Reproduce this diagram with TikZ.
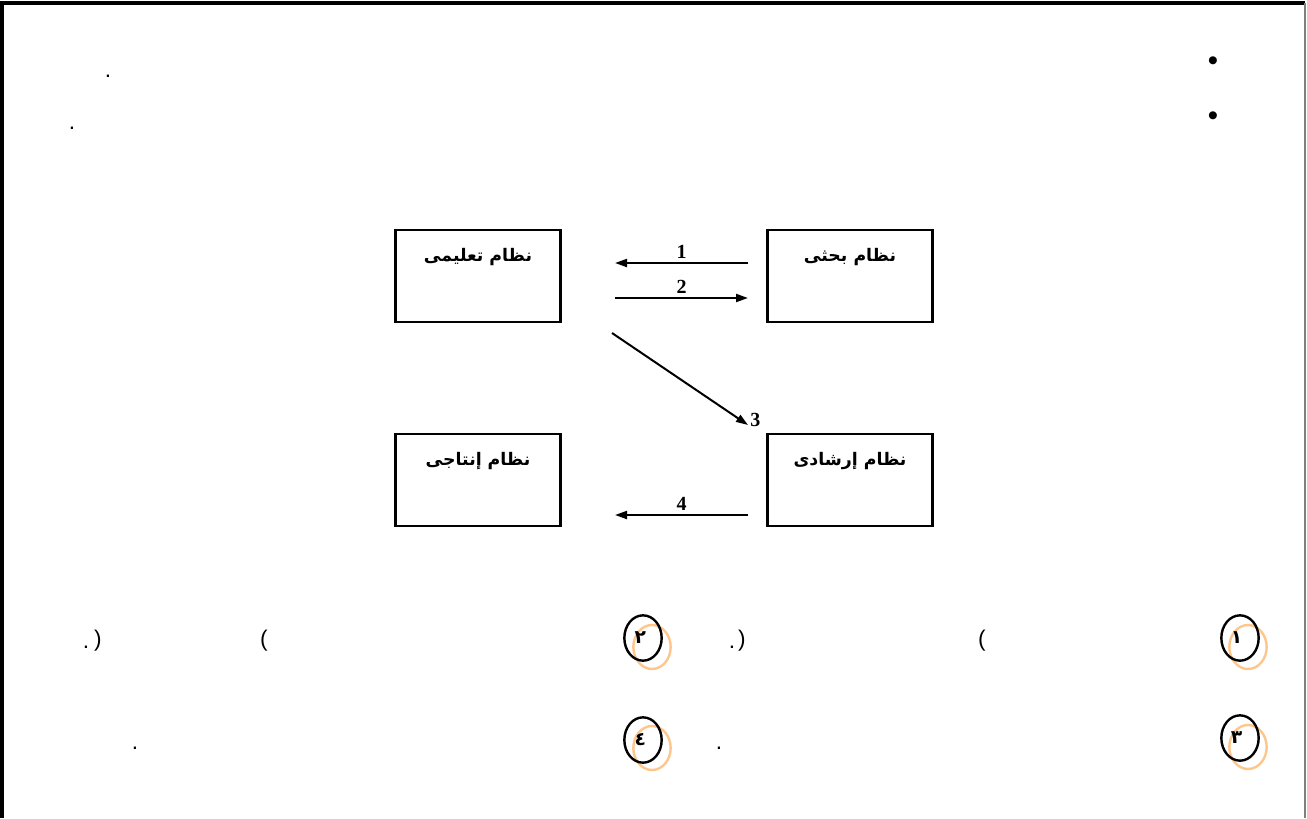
\documentclass[tikz,border=0pt]{standalone}
\usepackage{fontspec}
\setmainfont{Liberation Serif}
\newfontfamily\arabicfont[Script=Arabic]{DejaVu Sans}
\newfontfamily\plainsans{Liberation Sans}
\TeXXeTstate=1
\usetikzlibrary{arrows.meta,shapes.geometric}

\begin{document}
\begin{tikzpicture}[x=0.75pt,y=-0.75pt,
    sysbox/.style={draw,line width=2pt,minimum width=124pt,minimum height=69pt,inner sep=0pt},
    boxtext/.style={font=\arabicfont\bfseries\fontsize{13}{15}\selectfont},
    flow/.style={line width=1.5pt,-{Triangle[length=9pt,width=6pt]}},
    numlabel/.style={font=\bfseries\fontsize{15}{17}\selectfont,inner sep=1pt},
    blackring/.style={ellipse,draw,line width=1.8pt,minimum width=28pt,minimum height=34pt,inner sep=0pt,
      font=\arabicfont\bfseries\fontsize{14}{16}\selectfont},
    orangering/.style={ellipse,draw=orange!45,line width=1.8pt,minimum width=28pt,minimum height=33pt,inner sep=0pt},
    punct/.style={font=\plainsans\fontsize{17}{19}\selectfont,inner sep=0pt}]
  \useasboundingbox (0,0) rectangle (1307,818);
  % frame
  \draw[line width=2.5pt] (2,818) -- (2,3) -- (1305,3);
  \draw[gray,line width=1.5pt] (1305,3) -- (1305,818);
  % bullets and dots at the top
  \node[punct,font=\plainsans\fontsize{22}{24}\selectfont] (bul1) at (1213,64) {•};
  \node[punct,font=\plainsans\fontsize{22}{24}\selectfont] (bul2) at (1213,119) {•};
  \node[punct] (dot1) at (108,76) {.};
  \node[punct] (dot2) at (72,128) {.};
  % the four systems
  \node[sysbox] (taalimi) at (478,276) {};
  \node[sysbox] (bahthi) at (850,276) {};
  \node[sysbox] (entaji) at (478,480) {};
  \node[sysbox] (ershadi) at (850,480) {};
  \node[boxtext] (taalimi-t) at ([yshift=-21pt]taalimi.north) {\beginR نظام تعليمى\endR};
  \node[boxtext] (bahthi-t) at ([yshift=-21pt]bahthi.north) {\beginR نظام بحثى\endR};
  \node[boxtext] (entaji-t) at ([yshift=-21pt]entaji.north) {\beginR نظام إنتاجى\endR};
  \node[boxtext] (ershadi-t) at ([yshift=-21pt]ershadi.north) {\beginR نظام إرشادى\endR};
  % arrows
  \coordinate (a1s) at (748,263);
  \coordinate (a1e) at (615,263);
  \coordinate (a2s) at (615,298);
  \coordinate (a2e) at (748,298);
  \coordinate (a3s) at (612,333);
  \coordinate (a3e) at (748,425);
  \coordinate (a4s) at (748,515);
  \coordinate (a4e) at (615,515);
  \draw[flow] (a1s) -- (a1e) node[midway,above,numlabel,yshift=2pt] {1};
  \draw[flow] (a2s) -- (a2e) node[midway,above,numlabel,yshift=2pt] {2};
  \draw[flow] (a3s) -- (a3e) node[pos=1,anchor=south west,numlabel,xshift=0pt,yshift=-3pt] {3};
  \draw[flow] (a4s) -- (a4e) node[midway,above,numlabel,yshift=2pt] {4};
  % numbered rings
  \node[orangering] (o1) at (1248,647) {};
  \node[orangering] (o2) at (652,647) {};
  \node[orangering] (o3) at (1248,747) {};
  \node[orangering] (o4) at (652,748) {};
  \node[blackring] (n1) at (1240,638) {\hspace*{-5pt}١};
  \node[blackring] (n2) at (643,638) {\hspace*{-4pt}٢};
  \node[blackring] (n3) at (1240,738) {\hspace*{-5pt}٣};
  \node[blackring] (n4) at (643,740) {\hspace*{-4pt}٤};
  % brackets and stops
  \node[punct] (p1) at (86,647) {.};
  \node[punct] (p2) at (98,641) {)};
  \node[punct] (p3) at (264,641) {(};
  \node[punct] (p4) at (732,647) {.};
  \node[punct] (p5) at (742,641) {)};
  \node[punct] (p6) at (982,641) {(};
  \node[punct] (p7) at (135,748) {.};
  \node[punct] (p8) at (719,748) {.};
\end{tikzpicture}
\end{document}
